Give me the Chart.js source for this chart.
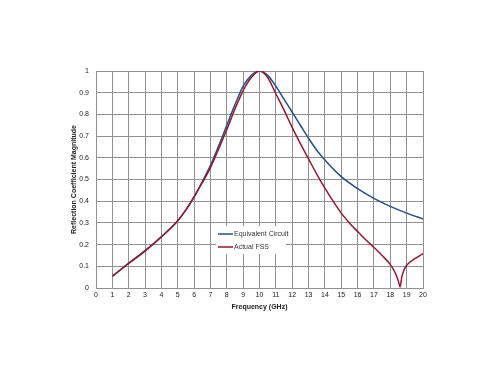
<!DOCTYPE html>
<html>
<head>
<meta charset="utf-8">
<script src="https://cdn.jsdelivr.net/npm/chart.js@4"></script>
<style>
html,body{margin:0;padding:0;background:#fff;}
canvas{display:block;}
</style>
</head>
<body>
<canvas id="c" width="500" height="375"></canvas>
<script>
const freqEC = [1,2,3,4,5,5.5,6,6.5,7,7.5,8,8.5,9,9.5,10,10.5,11,11.5,12,12.5,13,13.5,14,15,16,17,18,19,20];
const valuesEC = [0.054,0.115,0.172,0.237,0.31,0.36,0.42,0.49,0.565,0.655,0.75,0.845,0.93,0.98,1.0,0.98,0.93,0.87,0.81,0.75,0.69,0.635,0.59,0.513,0.458,0.413,0.376,0.345,0.318];
const freqFSS = [1,2,3,4,5,5.5,6,6.5,7,7.5,8,8.5,9,9.5,10,10.5,11,11.5,12,12.5,13,13.5,14,14.5,15,15.5,16,16.5,17,17.5,18,18.3,18.5,18.6,18.7,18.85,19,19.5,20];
const valuesFSS = [0.054,0.113,0.17,0.235,0.31,0.36,0.42,0.485,0.555,0.64,0.73,0.825,0.91,0.97,1.0,0.97,0.895,0.82,0.74,0.665,0.595,0.525,0.46,0.4,0.345,0.3,0.26,0.222,0.187,0.15,0.108,0.07,0.03,0.005,0.05,0.085,0.105,0.135,0.158];
const seriesLabels = ['Equivalent Circuit','Actual FSS'];
const seriesColors = ['#264f85','#94182e'];
const xTitle = 'Frequency (GHz)';
const yTitle = 'Reflection Coefficient Magnitude';

const toPts = (xs, ys) => xs.map((x,i)=>({x:x,y:ys[i]}));
const FONT = "'Liberation Sans', Arial, sans-serif";

const legendPlugin = {
  id:'insideLegend',
  afterDatasetsDraw(chart){
    const ctx = chart.ctx;
    ctx.save();
    ctx.fillStyle = '#fff';
    ctx.fillRect(216,226,70,28);
    chart.data.datasets.forEach((ds,i)=>{
      const y = 234 + i*13;
      ctx.strokeStyle = ds.borderColor;
      ctx.lineWidth = 1.5;
      ctx.beginPath(); ctx.moveTo(218,y); ctx.lineTo(233,y); ctx.stroke();
      ctx.fillStyle = '#333';
      ctx.font = '7px ' + FONT;
      ctx.textBaseline = 'middle';
      ctx.fillText(ds.label, 234, y);
    });
    ctx.restore();
  }
};

new Chart(document.getElementById('c'), {
  type:'line',
  data:{datasets:[
    {label:seriesLabels[0], data:toPts(freqEC,valuesEC), borderColor:seriesColors[0], borderWidth:1.5, pointRadius:0, cubicInterpolationMode:'monotone', fill:false, order:1},
    {label:seriesLabels[1], data:toPts(freqFSS,valuesFSS), borderColor:seriesColors[1], borderWidth:1.5, pointRadius:0, cubicInterpolationMode:'monotone', fill:false, order:0}
  ]},
  options:{
    responsive:false, animation:false,
    layout:{padding:{left:66,right:77,top:71,bottom:60}},
    plugins:{legend:{display:false}, tooltip:{enabled:false}},
    scales:{
      x:{type:'linear', min:0, max:20,
        ticks:{stepSize:1, color:'#222', font:{family:FONT,size:7}, padding:3, maxRotation:0},
        grid:{color:'#919191', drawTicks:false, lineWidth:1},
        border:{color:'#919191'},
        title:{display:true, text:xTitle, color:'#222', font:{family:FONT,size:7,weight:'bold'}, padding:{top:4,bottom:4}},
        afterFit:s=>{s.height=27;}
      },
      y:{min:0, max:1,
        ticks:{stepSize:0.1, color:'#222', font:{family:FONT,size:7}, padding:7, callback:v=>Math.round(v*10)/10},
        grid:{color:'#919191', drawTicks:false, lineWidth:1},
        border:{color:'#919191'},
        title:{display:true, text:yTitle, color:'#222', font:{family:FONT,size:7,weight:'bold'}, padding:{top:4,bottom:4}},
        afterFit:s=>{s.width=30;}
      }
    }
  },
  plugins:[legendPlugin]
});
</script>
</body>
</html>
